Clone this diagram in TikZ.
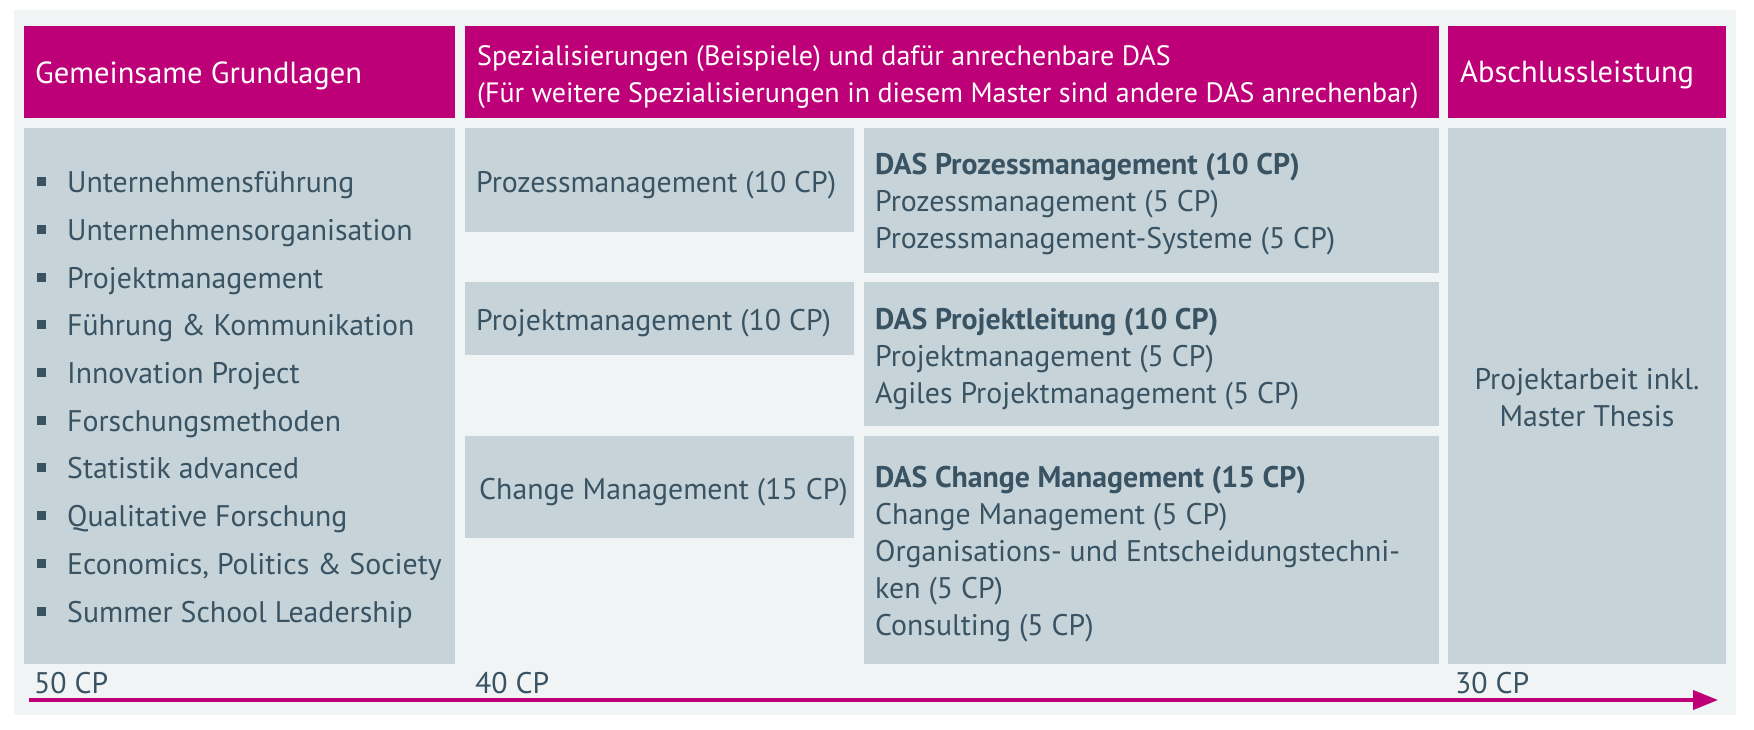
\documentclass[tikz,border=0pt]{standalone}
\usepackage{fontspec}
\setmainfont{PT Sans}
\usetikzlibrary{positioning,arrows.meta}
\definecolor{hsmagenta}{RGB}{190,0,120}
\definecolor{hsgrey}{RGB}{198,211,217}
\definecolor{hsback}{RGB}{240,244,245}
\definecolor{hstext}{RGB}{57,83,99}
\newcommand{\sqb}{\makebox[30pt][l]{\raisebox{6.5pt}{\rule{9pt}{9pt}}}}
\tikzset{
  head/.style={fill=hsmagenta, inner sep=0pt, anchor=north west},
  box/.style={fill=hsgrey, inner sep=0pt, anchor=north west},
  txt/.style={text=hstext, inner sep=0pt, align=left, anchor=base west, font=\fontsize{29.8}{37}\selectfont},
  htxt/.style={txt, text=white, font=\fontsize{30.5}{37}\selectfont},
}
\begin{document}
\begin{tikzpicture}[x=1pt,y=-1pt]
  \useasboundingbox (0,0) rectangle (1754,729);
  \fill[hsback] (14,10) rectangle (1736,715);
  \node[head, minimum width=431pt, minimum height=92pt] (H1) at (24,26) {};
  \node[head, minimum width=974pt, minimum height=92pt] (H2) at (465,26) {};
  \node[head, minimum width=278pt, minimum height=92pt] (H3) at (1448,26) {};
  \node[htxt] (TH1) at (35,83) {Gemeinsame Grundlagen};
  \node[htxt, font=\fontsize{28}{37}\selectfont] (TH2) at (477,102) {Spezialisierungen (Beispiele) und dafür anrechenbare DAS\\(Für weitere Spezialisierungen in diesem Master sind andere DAS anrechenbar)};
  \node[htxt] (TH3) at (1460,82) {Abschlussleistung};

  \node[box, minimum width=431pt, minimum height=536pt] (G1) at (24,128) {};
  \node[box, minimum width=389pt, minimum height=104pt] (P1) at (465,128) {};
  \node[box, minimum width=389pt, minimum height=73pt]  (P2) at (465,282) {};
  \node[box, minimum width=389pt, minimum height=102pt] (P3) at (465,436) {};
  \node[box, minimum width=575pt, minimum height=145pt] (D1) at (864,128) {};
  \node[box, minimum width=575pt, minimum height=144pt] (D2) at (864,282) {};
  \node[box, minimum width=575pt, minimum height=228pt] (D3) at (864,436) {};
  \node[box, minimum width=278pt, minimum height=536pt] (A1) at (1448,128) {};

  \node[txt, font=\fontsize{29.8}{47.7}\selectfont] (TG1) at (37,622) {\sqb Unternehmensführung\\\sqb Unternehmensorganisation\\\sqb Projektmanagement\\\sqb Führung \& Kommunikation\\\sqb Innovation Project\\\sqb Forschungsmethoden\\\sqb Statistik advanced\\\sqb Qualitative Forschung\\\sqb Economics, Politics \& Society\\\sqb Summer School Leadership};
  \node[txt] (TP1) at (476,192) {Prozessmanagement (10 CP)};
  \node[txt] (TP2) at (476,330) {Projektmanagement (10 CP)};
  \node[txt] (TP3) at (479,499) {Change Management (15 CP)};
  \node[txt] (TD1) at (875,248) {\textbf{DAS Prozessmanagement (10 CP)}\\Prozessmanagement (5 CP)\\Prozessmanagement-Systeme (5 CP)};
  \node[txt] (TD2) at (875,403) {\textbf{DAS Projektleitung (10 CP)}\\Projektmanagement (5 CP)\\Agiles Projektmanagement (5 CP)};
  \node[txt] (TD3) at (875,635) {\textbf{DAS Change Management (15 CP)}\\Change Management (5 CP)\\Organisations- und Entscheidungstechni-\\ken (5 CP)\\Consulting (5 CP)};
  \node[txt, align=center, anchor=base] (TA1) at (1587,426) {Projektarbeit inkl.\\Master Thesis};

  \node[txt] (CP1) at (34,693) {50 CP};
  \node[txt] (CP2) at (475,693) {40 CP};
  \node[txt] (CP3) at (1455,693) {30 CP};
  \coordinate (S) at (29,700);
  \coordinate (E) at (1718,700);
  \draw[hsmagenta, line width=4pt, -{Triangle[length=25pt,width=19pt]}] (S) -- (E);
\end{tikzpicture}
\end{document}
